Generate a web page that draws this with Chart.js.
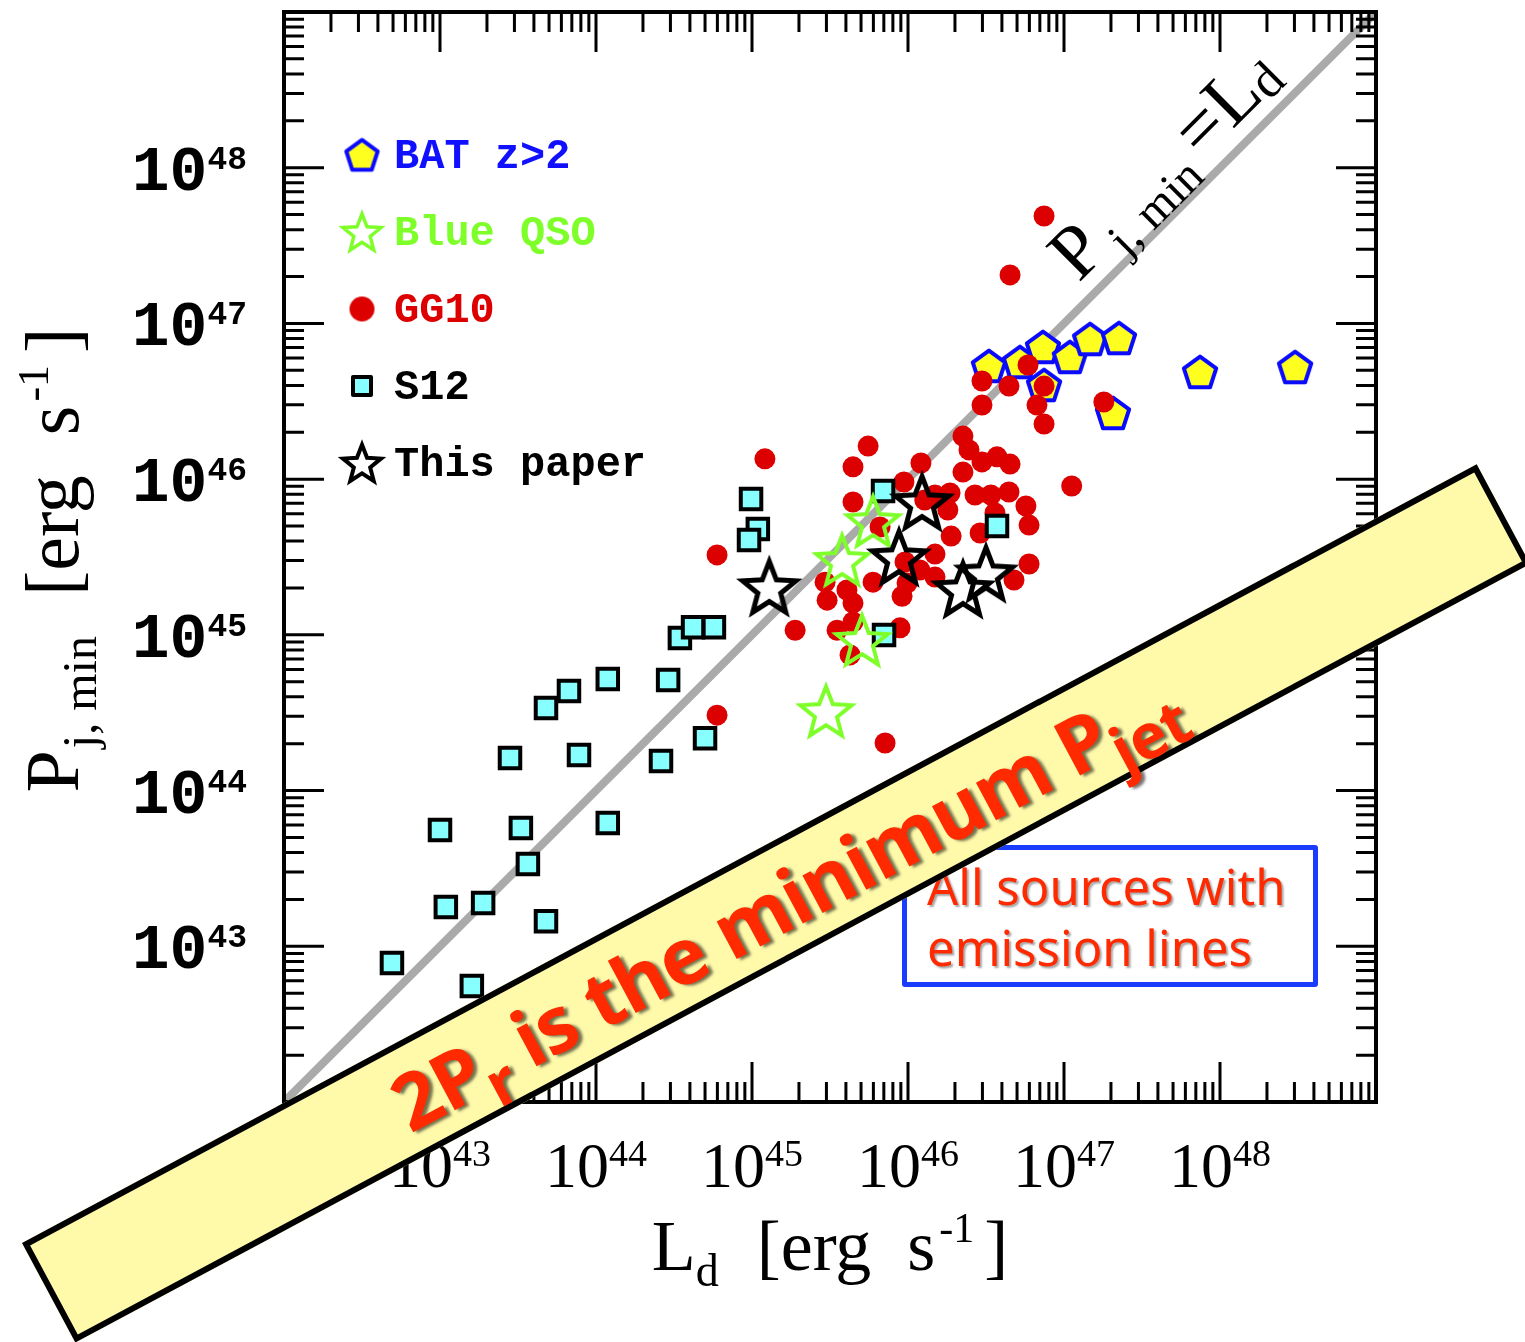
<!DOCTYPE html>
<html>
<head>
<meta charset="utf-8">
<title>P_j,min vs L_d</title>
<script src="https://cdn.jsdelivr.net/npm/chart.js@4.4.1/dist/chart.umd.min.js"></script>
<style>
  html, body { margin: 0; padding: 0; background: #fff; }
  #wrap { position: relative; width: 1525px; height: 1342px; overflow: hidden; background: #fff; }
  #plot { position: absolute; left: 0; top: 0; }
  #note {
    position: absolute; left: 902px; top: 845px; width: 416px; height: 142px;
    box-sizing: border-box; border: 5px solid #1a3cff; border-radius: 3px;
    padding: 6px 0 0 20px;
    font-family: 'Noto Sans', sans-serif; font-size: 49px; line-height: 61px;
    color: #ff2a00; text-shadow: 2px 2px 2px rgba(0,0,0,0.35); white-space: nowrap;
  }
  #banner {
    position: absolute; left: 22px; top: 1243px; width: 1650px; height: 113px;
    box-sizing: border-box; transform-origin: 0 0; transform: rotate(-28.16deg);
    background: #fffaaa; border: 6px solid #000; padding-left: 388px;
    display: flex; align-items: center; white-space: nowrap;
    font-family: 'Noto Sans', sans-serif; font-weight: 700; font-size: 78px; letter-spacing: -1px;
    color: #ff2a00; text-shadow: 3px 3px 3px rgba(0,0,0,0.55);
  }
  #banner sub { font-size: 0.8em; vertical-align: -0.32em; line-height: 0; }
</style>
</head>
<body>
<div id="wrap">
  <canvas id="plot" width="1525" height="1342"></canvas>
  <div id="note">All sources with<br>emission lines</div>
  <div id="banner"><span>2P<sub>r</sub> is the minimum P<sub>jet</sub></span></div>
</div>
<script>
// L_d and P_j,min in erg/s
var batLd = [3.30e46, 5.22e46, 7.33e46, 1.09e47, 1.47e47, 2.25e47, 7.45e46, 2.06e47, 7.45e47, 3.03e48];
var batPj = [5.33e46, 5.65e46, 7.06e46, 6.09e46, 7.94e46, 8.06e46, 4.02e46, 2.66e46, 4.88e46, 5.25e46];

var qsoLd = [5.97e45, 3.78e45, 5.07e45, 2.98e45];
var qsoPj = [5.38e45, 3.03e45, 9.27e44, 3.24e44];

var gg10Ld = [7.45e46, 4.51e46, 5.88e46, 2.98e46, 4.44e46, 7.45e46, 2.98e46, 6.71e46, 7.45e46, 1.80e47,
              2.25e46, 2.46e46, 1.21e46, 2.98e46, 3.72e46, 4.51e46, 2.25e46, 1.12e47, 9.42e45, 1.49e46,
              1.86e46, 2.69e46, 3.40e46, 4.44e46, 1.80e46, 5.70e46, 3.61e46, 5.97e46, 2.90e46, 1.89e46,
              1.49e46, 5.97e46, 4.78e46, 1.19e46, 1.49e46, 9.86e45, 1.21e45, 5.55e45, 4.44e45, 4.44e45,
              6.62e45, 5.97e44, 5.97e45, 2.94e45, 3.03e45, 4.06e45, 4.44e45, 9.16e45, 1.89e45, 4.44e45,
              3.51e45, 8.89e45, 4.25e45, 5.97e44, 7.13e45, 9.57e45, 1.28e46];
var gg10Pj = [4.90e47, 2.05e47, 5.41e46, 4.27e46, 3.96e46, 3.96e46, 2.99e46, 2.99e46, 2.26e46, 3.13e46,
              1.89e46, 1.54e46, 1.27e46, 1.29e46, 1.39e46, 1.25e46, 1.11e46, 9.04e45, 9.59e45, 7.91e45,
              8.15e45, 7.91e45, 7.91e45, 8.27e45, 6.34e45, 6.72e45, 6.06e45, 5.07e45, 4.51e45, 4.31e45,
              3.30e45, 2.85e45, 2.25e45, 2.61e45, 2.35e45, 2.15e45, 1.35e46, 1.63e46, 1.20e46, 7.13e45,
              4.93e45, 3.26e45, 2.18e45, 2.18e45, 1.67e45, 1.94e45, 1.60e45, 1.77e45, 1.07e45, 1.21e45,
              1.07e45, 1.11e45, 7.43e44, 3.05e44, 2.02e44, 2.94e45, 7.35e45];

var s12Ld = [4.92e42, 1.60e43, 1.09e43, 1.89e43, 4.78e43, 3.66e43, 1.00e43, 3.30e43, 2.81e43, 7.78e43,
             4.78e43, 6.71e43, 1.19e44, 2.90e44, 2.61e44, 5.00e44, 1.19e44, 3.45e44, 4.19e44, 5.70e44,
             9.86e44, 1.09e45, 9.57e44, 6.92e45, 3.72e46, 7.02e45];
var s12Pj = [7.82e42, 5.56e42, 1.79e43, 1.90e43, 1.45e43, 3.38e43, 5.58e43, 5.75e43, 1.62e44, 1.69e44,
             3.39e44, 4.36e44, 5.20e44, 5.13e44, 1.55e44, 2.17e44, 6.19e43, 9.55e44, 1.12e45, 1.12e45,
             7.45e45, 4.79e45, 4.07e45, 8.39e45, 5.00e45, 9.98e44];

var paperLd = [1.29e45, 1.23e46, 8.75e45, 2.25e46, 3.16e46];
var paperPj = [2.03e45, 7.13e45, 3.16e45, 1.97e45, 2.49e45];

// the P_j,min = L_d line
var unityLd = [1e42, 1e49];
var unityPj = [1e42, 1e49];

var axisMin = 1e42, axisMax = 1e49;
var xTickExps = ['43', '44', '45', '46', '47', '48'];
var yTickExps = ['43', '44', '45', '46', '47', '48'];

function pairs(xs, ys) {
  return xs.map(function(v, i) { return {x: v, y: ys[i]}; });
}

// marker shapes
function starPath(g, cx, cy, R, r) {
  g.beginPath();
  for (var i = 0; i < 10; i++) {
    var a = -Math.PI / 2 + i * Math.PI / 5;
    var rad = i % 2 ? r : R;
    g.lineTo(cx + rad * Math.cos(a), cy + rad * Math.sin(a));
  }
  g.closePath();
}
function pentagonPath(g, cx, cy, R) {
  g.beginPath();
  for (var i = 0; i < 5; i++) {
    var a = -Math.PI / 2 + i * 2 * Math.PI / 5;
    g.lineTo(cx + R * Math.cos(a), cy + R * Math.sin(a));
  }
  g.closePath();
}
function marker(size, paint) {
  var c = document.createElement('canvas');
  c.width = c.height = size;
  paint(c.getContext('2d'), size / 2);
  return c;
}
function pentMark(R) {
  return marker(Math.ceil(2 * R + 10), function(g, m) {
    g.lineJoin = 'round';
    pentagonPath(g, m, m + R * 0.09, R);
    g.fillStyle = '#ffff1f'; g.fill();
    g.lineWidth = 4; g.strokeStyle = '#0a0aff'; g.stroke();
  });
}
function starMark(R, color, lw) {
  return marker(Math.ceil(2 * R + 24), function(g, m) {
    g.lineJoin = 'miter';
    starPath(g, m, m + R * 0.09, R, R * 0.43);
    g.lineWidth = lw; g.strokeStyle = color; g.stroke();
  });
}
function dotMark(R) {
  return marker(Math.ceil(2 * R + 4), function(g, m) {
    g.beginPath(); g.arc(m, m, R, 0, 2 * Math.PI);
    g.fillStyle = '#dd0000'; g.fill();
  });
}
function boxMark(side) {
  return marker(side + 8, function(g, m) {
    g.lineJoin = 'round';
    g.fillStyle = '#88ffff'; g.fillRect(m - side / 2, m - side / 2, side, side);
    g.lineWidth = 4; g.strokeStyle = '#000'; g.strokeRect(m - side / 2, m - side / 2, side, side);
  });
}

var legendRows = [
  {text: 'BAT z>2',    color: '#1010ff', mark: pentMark(16.5)},
  {text: 'Blue QSO',   color: '#7fff2a', mark: starMark(20, '#7fff2a', 3.5)},
  {text: 'GG10',       color: '#dd0000', mark: dotMark(12.5)},
  {text: 'S12',        color: '#000000', mark: boxMark(18)},
  {text: 'This paper', color: '#000000', mark: starMark(20, '#000000', 4)}
];

function drawPieces(ctx, pieces, x0, y0) {
  var x = x0;
  pieces.forEach(function(p) {
    ctx.font = p.font;
    x += p.gap || 0;
    ctx.fillText(p.t, x, y0 + (p.dy || 0));
    x += ctx.measureText(p.t).width;
  });
  return x - x0;
}
function piecesWidth(ctx, pieces) {
  var w = 0;
  pieces.forEach(function(p) { ctx.font = p.font; w += (p.gap || 0) + ctx.measureText(p.t).width; });
  return w;
}

var framePlugin = {
  id: 'frame',
  afterDatasetsDraw: function(chart) {
    var ctx = chart.ctx, a = chart.chartArea, sx = chart.scales.x, sy = chart.scales.y;
    ctx.save();
    // ticks on all four sides, pointing inward
    ctx.strokeStyle = '#000'; ctx.lineWidth = 3; ctx.lineCap = 'butt';
    ctx.beginPath();
    for (var e = 42; e < 49; e++) {
      for (var k = 1; k < 10; k++) {
        var v = k * Math.pow(10, e);
        var len = k === 1 ? 40 : 20;
        var px = sx.getPixelForValue(v), py = sy.getPixelForValue(v);
        ctx.moveTo(px, a.bottom); ctx.lineTo(px, a.bottom - len);
        ctx.moveTo(px, a.top); ctx.lineTo(px, a.top + len);
        ctx.moveTo(a.left, py); ctx.lineTo(a.left + len, py);
        ctx.moveTo(a.right, py); ctx.lineTo(a.right - len, py);
      }
    }
    ctx.stroke();
    ctx.lineWidth = 4;
    ctx.strokeRect(a.left, a.top, a.right - a.left, a.bottom - a.top);

    ctx.fillStyle = '#000';
    ctx.textBaseline = 'alphabetic';
    ctx.textAlign = 'left';
    // x tick labels
    xTickExps.forEach(function(ex) {
      var px = sx.getPixelForValue(Math.pow(10, +ex));
      var pcs = [{t: '10', font: '64px "Liberation Serif"'},
                 {t: ex, font: '38px "Liberation Serif"', dy: -21}];
      var w = piecesWidth(ctx, pcs);
      drawPieces(ctx, pcs, px - w / 2, 1187);
    });
    // y tick labels
    yTickExps.forEach(function(ex) {
      var py = sy.getPixelForValue(Math.pow(10, +ex));
      var pcs = [{t: '10', font: 'bold 63px "Liberation Mono"'},
                 {t: ex, font: 'bold 33px "Liberation Mono"', dy: -21}];
      var w = piecesWidth(ctx, pcs);
      drawPieces(ctx, pcs, 247 - w, py + 22);
    });

    // axis titles
    var xt = [{t: 'L', font: '72px "Liberation Serif"'},
              {t: 'd', font: '46px "Liberation Serif"', dy: 16},
              {t: '[erg', font: '72px "Liberation Serif"', gap: 38},
              {t: 's', font: '72px "Liberation Serif"', gap: 36},
              {t: '-1', font: '42px "Liberation Serif"', dy: -28, gap: 4},
              {t: ']', font: '72px "Liberation Serif"', gap: 10}];
    var wx = piecesWidth(ctx, xt);
    drawPieces(ctx, xt, 830 - wx / 2, 1270);

    var yt = [{t: 'P', font: '76px "Liberation Serif"'},
              {t: 'j, min', font: '48px "Liberation Serif"', dy: 18, gap: 2},
              {t: '[erg', font: '76px "Liberation Serif"', gap: 40},
              {t: 's', font: '76px "Liberation Serif"', gap: 40},
              {t: '-1', font: '44px "Liberation Serif"', dy: -30, gap: 4},
              {t: ']', font: '76px "Liberation Serif"', gap: 12}];
    var wy = piecesWidth(ctx, yt);
    ctx.save();
    ctx.translate(78, 560);
    ctx.rotate(-Math.PI / 2);
    drawPieces(ctx, yt, -wy / 2, 0);
    ctx.restore();

    // label along the unity line
    var x0 = sx.getPixelForValue(axisMin), y0 = sy.getPixelForValue(axisMin);
    var x1 = sx.getPixelForValue(axisMax), y1 = sy.getPixelForValue(axisMax);
    var ang = Math.atan2(y1 - y0, x1 - x0);
    var fx = sx.getPixelForValue(1.5e47), fy = sy.getPixelForValue(1.5e47);
    ctx.save();
    ctx.translate(fx + 18 * Math.sin(ang), fy - 18 * Math.cos(ang));
    ctx.rotate(ang);
    drawPieces(ctx, [{t: 'P', font: '76px "Liberation Serif"'},
                     {t: 'j, min', font: '48px "Liberation Serif"', dy: 16, gap: 10},
                     {t: '=', font: '76px "Liberation Serif"', gap: 10},
                     {t: 'L', font: '76px "Liberation Serif"'},
                     {t: 'd', font: '52px "Liberation Serif"', dy: 6}], 0, 0);
    ctx.restore();

    // legend inside the plot, top left
    ctx.textBaseline = 'middle';
    ctx.font = 'bold 42px "Liberation Mono"';
    legendRows.forEach(function(row, i) {
      var cy = a.top + 143 + i * 77;
      var m = row.mark;
      ctx.drawImage(m, a.left + 78 - m.width / 2, cy - m.height / 2);
      ctx.fillStyle = row.color;
      ctx.fillText(row.text, a.left + 110, cy + 2);
    });
    ctx.restore();
  }
};

var ctx = document.getElementById('plot');
var chart = new Chart(ctx, {
  type: 'scatter',
  data: {
    datasets: [
      {
        label: 'P_j,min = L_d',
        data: pairs(unityLd, unityPj),
        showLine: true,
        borderColor: '#aaaaaa',
        borderWidth: 8,
        pointRadius: 0,
        order: 10
      },
      {
        label: 'BAT z>2',
        data: pairs(batLd, batPj),
        pointStyle: pentMark(17),
        order: 6
      },
      {
        label: 'GG10',
        data: pairs(gg10Ld, gg10Pj),
        pointStyle: 'circle',
        pointRadius: 10.5,
        backgroundColor: '#dd0000',
        borderWidth: 0,
        order: 5
      },
      {
        label: 'S12',
        data: pairs(s12Ld, s12Pj),
        pointStyle: 'rect',
        pointRadius: 14.5,
        backgroundColor: '#88ffff',
        borderColor: '#000000',
        borderWidth: 4,
        order: 4
      },
      {
        label: 'Blue QSO',
        data: pairs(qsoLd, qsoPj),
        pointStyle: starMark(27, '#7fff2a', 4),
        order: 3
      },
      {
        label: 'This paper',
        data: pairs(paperLd, paperPj),
        pointStyle: starMark(28, '#000000', 5),
        order: 2
      }
    ]
  },
  options: {
    responsive: false,
    animation: false,
    devicePixelRatio: 1,
    events: [],
    layout: { autoPadding: false, padding: { left: 284, right: 149, top: 12, bottom: 240 } },
    scales: {
      x: { type: 'logarithmic', min: axisMin, max: axisMax, display: false },
      y: { type: 'logarithmic', min: axisMin, max: axisMax, display: false }
    },
    plugins: {
      legend: { display: false },
      tooltip: { enabled: false }
    }
  },
  plugins: [framePlugin]
});
</script>
</body>
</html>
